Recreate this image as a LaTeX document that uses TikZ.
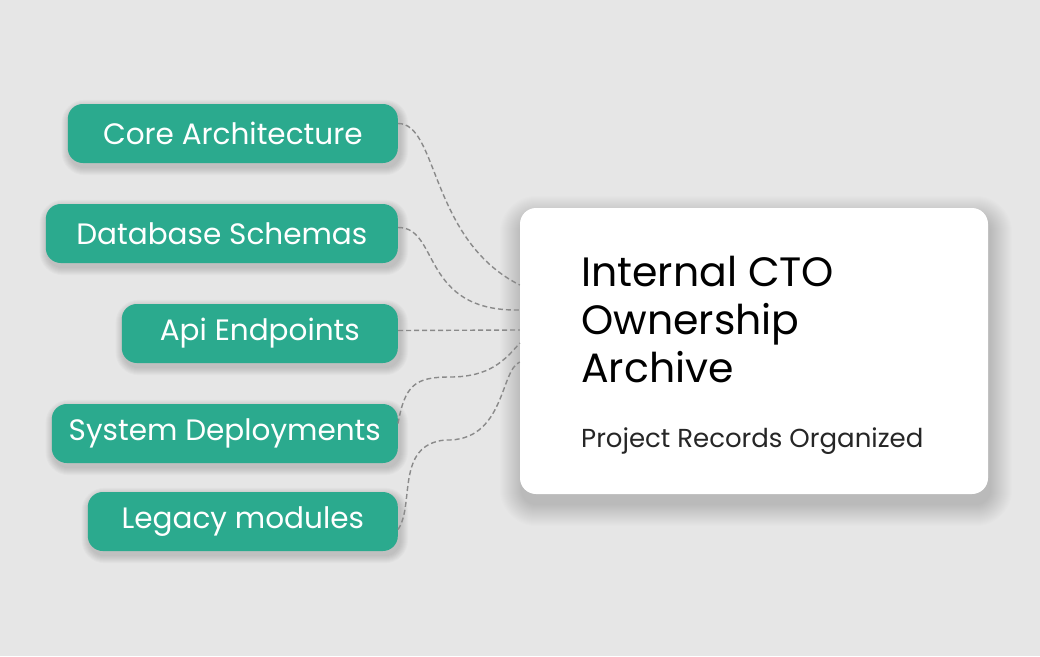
\documentclass[tikz,border=0pt]{standalone}
\usepackage{fontspec}
\setmainfont{Poppins}
\usetikzlibrary{backgrounds}

\definecolor{bgcol}{RGB}{230,230,230}
\definecolor{teal}{RGB}{43,170,142}
\definecolor{wire}{RGB}{138,138,138}

\tikzset{
  topic/.style = {rectangle, rounded corners=15pt, fill=teal, text=white,
    minimum height=59pt, inner sep=0pt, anchor=east,
    font=\fontsize{29.5}{34}\selectfont},
  card/.style = {rectangle, rounded corners=16pt, fill=white,
    minimum width=468pt, minimum height=286pt, inner sep=0pt},
  link/.style = {draw=wire, line width=1.4pt, dash pattern=on 5pt off 3pt}
}

% soft shadow behind a node: name, drop, spread, opacity
\newcommand\softshadow[4]{%
  \foreach \k in {1,...,#3}{
    \fill[black, fill opacity=#4, rounded corners={(15+\k)*1pt}]
      ([xshift={(2-\k)*1pt}, yshift={-(#2+\k)*1pt}]#1.south west) rectangle
      ([xshift={(2+\k)*1pt}, yshift={(\k-#2)*1pt}]#1.north east);}}

\begin{document}
\begin{tikzpicture}[x=1pt, y=1pt]
      \begin{pgfonlayer}{background}
        \fill[bgcol] (0,0) rectangle (1040,-656);
      \end{pgfonlayer}
      \useasboundingbox (0,0) rectangle (1040,-656);

      % Topics
      \node[topic, minimum width=330pt] (core)   at (398,-133.5) {Core Architecture};
      \node[topic, minimum width=352pt] (schema) at (398,-233.5) {Database Schemas};
      \node[topic, minimum width=276pt] (api)    at (398,-333.5) {Api Endpoints};
      \node[topic, minimum width=346pt] (deploy) at (398,-433.5) {System Deployments};
      \node[topic, minimum width=310pt] (legacy) at (398,-521.5) {Legacy modules};

      % Archive card
      \node[card] (archive) at (754,-351) {};
      \node[anchor=base west, align=left, inner sep=0pt,
            font=\fontsize{41}{48}\selectfont] (title) at (581,-382)
            {Internal CTO\\Ownership\\Archive};
      \node[anchor=base west, inner sep=0pt, text=black!85,
            font=\fontsize{26}{30}\selectfont] (sub) at (581,-447)
            {Project Records Organized};

      % Shadows
      \begin{pgfonlayer}{background}
        \foreach \n in {core,schema,api,deploy,legacy}{
          \softshadow{\n}{4}{8}{0.02}}
        \softshadow{archive}{10}{22}{0.008}
      \end{pgfonlayer}

      % Links
      \draw[link] ([yshift=10pt]core.east) .. controls (438,-123) and (430,-240)
            .. ([yshift=66pt]archive.west);
      \draw[link] ([yshift=6pt]schema.east) .. controls (440,-227) and (420,-312)
            .. ([yshift=41pt]archive.west);
      \draw[link] ([yshift=3pt]api.east) -- ([yshift=21pt]archive.west);
      \draw[link] ([yshift=10pt]deploy.east) .. controls (405,-385) and (415,-377)
            .. (450,-377) .. controls (490,-377) and (505,-360)
            .. ([yshift=8pt]archive.west);
      \draw[link] ([yshift=-8pt]legacy.east) .. controls (415,-505) and (395,-445)
            .. (445,-440) .. controls (505,-442) and (500,-370)
            .. ([yshift=-11pt]archive.west);
\end{tikzpicture}
\end{document}
